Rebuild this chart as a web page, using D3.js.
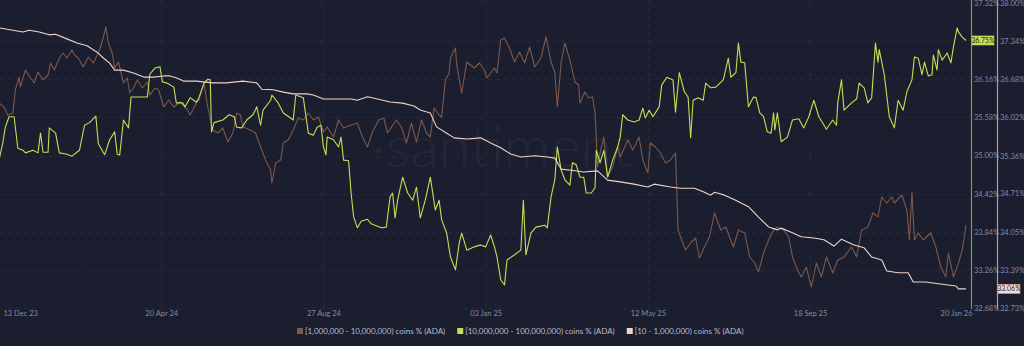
<!DOCTYPE html>
<html><head><meta charset="utf-8">
<script src="https://cdn.jsdelivr.net/npm/d3@7"></script>
<style>
html,body{margin:0;padding:0;background:#1b1e2f;}
svg{display:block;font-family:Lato,"Open Sans",sans-serif;}
</style></head>
<body><svg id="c" width="1024" height="346"></svg>
<script>
const startDate = "2023-12-13";
const endDate = "2026-01-20";
const xTickLabels = ["2023-12-13","2024-04-20","2024-08-27","2025-01-03","2025-05-12","2025-09-18","2026-01-20"];
const seriesNames = ["[1,000,000 - 10,000,000) coins % (ADA)","[10,000,000 - 100,000,000) coins % (ADA)","[10 - 1,000,000) coins % (ADA)"];
const greenTicks = [37.32,36.74,36.16,35.58,35.00,34.42,33.84,33.26,32.68];
const pinkTicks = [38.00,37.34,36.68,36.02,35.36,34.71,34.05,33.39,32.73];

// [1,000,000 - 10,000,000) (hidden axis)
const brownDays = [0,4,7,11,13,16,17,21,25,28,31,35,39,41,44,48,51,54,58,60,63,67,71,75,80,83,85,87,90,92,95,99,102,104,107,110,114,118,120,124,127,131,135,139,144,150,152,157,159,163,166,170,174,178,182,186,189,192,194,200,204,208,212,216,217,220,224,226,230,234,238,242,246,250,254,258,261,266,270,274,280,285,289,293,297,302,306,309,316,320,324,328,332,336,340,343,346,350,352,355,358,359,363,364,368,372,378,382,386,388,394,396,399,402,406,410,414,418,422,426,431,435,439,442,444,447,450,454,458,461,462,466,469,472,474,476,478,481,484,488,492,494,500,504,509,512,516,518,522,526,530,534,538,540,542,546,550,554,557,561,565,569,574,578,584,588,593,597,601,604,608,612,616,619,624,628,631,635,638,642,646,650,654,658,663,667,672,678,682,686,691,695,699,702,706,710,712,718,722,724,726,728,731,735,741,745,749,753,755,759,763,766,769];
const brownValues = [11.00,10.96,10.88,10.90,11.13,11.26,11.16,11.33,11.25,11.20,11.31,11.23,11.28,11.40,11.33,11.45,11.50,11.45,11.53,11.48,11.45,11.36,11.46,11.40,11.53,11.66,11.76,11.60,11.50,11.35,11.41,11.20,11.25,11.10,11.15,11.23,11.15,11.21,11.08,11.15,11.13,10.96,11.03,10.96,11.01,10.93,10.88,11.00,11.03,11.20,10.96,10.73,10.70,10.75,10.61,10.70,10.90,10.88,10.76,10.73,10.70,10.56,10.43,10.33,10.20,10.40,10.43,10.60,10.63,10.73,10.85,10.83,10.90,10.83,10.86,10.71,10.76,10.66,10.83,10.75,10.78,10.80,10.66,10.56,10.71,10.83,10.85,10.70,10.83,10.76,10.60,10.80,10.61,10.83,10.70,10.66,10.95,10.88,10.86,11.23,11.30,11.45,11.55,11.38,11.10,11.41,11.35,11.40,11.33,11.25,11.35,11.30,11.63,11.65,11.55,11.41,11.51,11.40,11.56,11.36,11.45,11.66,11.41,11.31,10.96,11.40,11.60,11.43,11.21,11.18,11.00,11.11,11.05,11.06,10.90,10.36,10.50,10.66,10.26,10.36,10.56,10.46,10.63,10.53,10.66,10.43,10.30,10.60,10.56,10.50,10.40,10.43,10.50,9.73,9.66,9.53,9.60,9.65,9.45,9.56,9.66,9.90,9.73,9.76,9.56,9.73,9.70,9.46,9.40,9.31,9.50,9.63,9.73,9.76,9.73,9.66,9.46,9.33,9.26,9.36,9.16,9.40,9.26,9.46,9.30,9.43,9.46,9.56,9.46,9.73,9.76,9.90,9.86,10.06,10.00,10.06,10.00,10.08,9.93,9.63,10.11,9.63,9.70,9.63,9.70,9.56,9.36,9.26,9.50,9.26,9.40,9.53,9.78];
const brownDomain = [8.95, 12.00];

// [10,000,000 - 100,000,000)
const greenDays = [0,3,5,8,12,15,19,21,27,31,33,35,39,40,45,48,54,58,64,68,72,77,79,84,88,92,94,96,99,103,105,112,118,120,124,128,130,134,139,141,146,148,152,157,159,163,166,168,169,171,178,183,187,189,193,197,202,205,208,210,216,217,222,226,234,236,242,246,250,253,256,258,260,261,266,270,272,274,278,280,282,285,288,293,296,304,308,311,313,315,317,321,325,329,332,335,339,343,347,350,352,356,359,363,366,368,372,378,383,387,391,394,396,399,402,404,410,415,417,419,423,427,434,436,439,442,444,447,450,454,456,459,462,465,467,471,474,475,478,481,484,488,492,494,496,500,505,509,512,514,517,520,525,527,531,536,538,541,545,548,550,552,556,560,562,566,570,576,580,582,586,588,590,593,596,600,602,605,608,611,614,616,617,619,622,627,631,636,640,644,648,652,658,663,666,667,670,672,678,682,684,688,691,694,697,699,700,704,708,712,715,719,722,726,728,731,734,736,739,742,743,746,747,750,754,757,759,762,763,766,769];
const greenValues = [34.93,35.19,35.43,35.59,35.59,35.11,35.08,35.04,35.08,35.04,35.34,35.05,35.05,35.42,35.34,35.04,35.02,34.99,35.08,35.46,35.50,35.60,35.18,35.01,35.24,35.36,35.02,35.01,35.54,35.42,35.89,35.89,35.89,36.24,36.33,36.35,36.12,36.10,36.04,35.80,35.80,35.74,35.88,35.81,35.88,36.10,36.16,36.15,35.36,35.50,35.54,35.62,35.59,35.43,35.42,35.54,35.62,35.74,35.46,35.69,35.84,35.92,35.80,35.65,35.54,35.92,35.88,35.34,35.31,35.43,35.46,35.13,35.01,35.28,35.24,35.13,35.28,34.93,34.92,34.43,34.07,33.90,34.00,34.03,33.96,33.90,33.91,34.37,34.43,34.05,34.32,34.67,34.43,34.32,34.52,34.05,34.32,34.67,34.17,34.32,34.02,33.82,33.46,33.26,33.67,33.82,33.56,33.61,33.64,33.61,33.79,33.61,33.46,33.11,33.03,33.41,33.49,33.56,34.32,33.49,33.82,33.91,33.94,33.90,34.37,34.63,35.13,34.78,34.63,34.55,34.89,34.86,34.67,34.67,34.43,34.43,34.51,35.08,34.89,35.08,34.67,34.93,35.13,35.28,35.62,35.54,35.51,35.54,35.72,35.57,35.69,35.59,35.74,36.07,36.19,36.15,35.66,36.26,35.97,35.89,35.27,35.84,35.88,35.84,36.10,36.03,36.04,36.15,36.48,36.19,36.26,36.71,36.42,36.41,35.74,35.89,35.88,35.65,35.59,35.36,35.34,35.65,35.39,35.65,35.21,35.28,35.54,35.56,35.42,35.59,35.84,35.59,35.40,35.54,35.46,35.80,36.15,35.69,35.80,35.86,36.10,36.03,35.80,35.88,36.71,36.42,36.61,36.23,35.59,35.42,35.84,35.69,35.97,36.15,36.50,36.48,36.23,36.42,36.21,36.23,36.53,36.30,36.61,36.45,36.56,36.41,36.65,36.94,36.88,36.80,36.75];

// [10 - 1,000,000)
const pinkDays = [0,11,19,24,32,40,45,54,62,70,78,83,88,92,99,107,115,123,131,136,142,147,157,170,181,194,205,209,218,226,234,245,250,258,269,280,285,293,301,311,321,330,335,343,348,356,362,372,383,391,399,407,415,426,436,442,447,455,465,476,484,494,505,516,521,534,542,553,561,566,569,577,585,596,604,612,619,622,630,638,648,656,664,670,680,688,694,702,706,715,723,727,737,747,761,763,769];
const pinkValues = [37.57,37.53,37.50,37.53,37.50,37.45,37.46,37.38,37.31,37.26,37.15,37.05,36.96,36.84,36.84,36.79,36.72,36.72,36.74,36.74,36.70,36.65,36.65,36.62,36.62,36.65,36.62,36.51,36.50,36.46,36.43,36.43,36.41,36.34,36.34,36.34,36.32,36.38,36.34,36.29,36.27,36.22,36.15,36.10,35.86,35.75,35.67,35.65,35.67,35.58,35.50,35.39,35.34,35.36,35.34,35.32,35.13,35.11,35.08,35.10,34.94,34.91,34.87,34.82,34.87,34.82,34.80,34.80,34.73,34.68,34.73,34.68,34.60,34.48,34.30,34.13,34.08,34.11,34.04,33.96,33.94,33.91,33.80,33.92,33.82,33.77,33.61,33.56,33.37,33.34,33.34,33.18,33.18,33.15,33.11,33.06,33.06];

const colors = {bg:"#1b1e2f", brown:"#7e584a", green:"#c6df52", pink:"#f2d2c4", axisText:"#858aa3", grid:"#262a3d", legendText:"#b9bccb"};

const svg = d3.select("#c");
svg.append("rect").attr("width",1024).attr("height",346).attr("fill",colors.bg);

const DAY = 86400000;
const t0 = new Date(startDate+"T00:00:00Z");
const toDate = d => new Date(t0.getTime() + d*DAY);
const parse = s => new Date(s+"T00:00:00Z");

const plotTop = 3, plotBottom = 308;
const x = d3.scaleUtc().domain([parse(startDate), parse(endDate)]).range([-1, 966]);
const yGreen = d3.scaleLinear().domain([32.68, 37.32]).range([plotBottom, plotTop]);
const yPink = d3.scaleLinear().domain([32.73, 38.00]).range([plotBottom, plotTop]);
const yBrown = d3.scaleLinear().domain(brownDomain).range([plotBottom, plotTop]);

// grid
const g = svg.append("g");
g.selectAll(".hg").data(greenTicks).join("line")
  .attr("x1",0).attr("x2",966).attr("y1",d=>Math.round(yGreen(d))+0.5).attr("y2",d=>Math.round(yGreen(d))+0.5)
  .attr("stroke",colors.grid).attr("stroke-dasharray","4,4");
const xt = xTickLabels.map(parse);
g.selectAll(".vg").data(xt.slice(1,-1)).join("line")
  .attr("x1",d=>Math.round(x(d))+0.5).attr("x2",d=>Math.round(x(d))+0.5).attr("y1",0).attr("y2",plotBottom)
  .attr("stroke",colors.grid).attr("stroke-dasharray","4,4");

// watermark
svg.append("text").attr("x",502).attr("y",167).attr("text-anchor","middle")
  .attr("font-size",58).attr("font-weight",300).attr("fill","#ffffff").attr("fill-opacity",0.045)
  .text("·santiment");

// lines
const mk = (days, vals) => days.map((d,i)=>({date:toDate(d), v:vals[i]}));
const line = ys => d3.line().x(d=>x(d.date)).y(d=>ys(d.v));
svg.append("path").datum(mk(brownDays,brownValues)).attr("d",line(yBrown))
  .attr("fill","none").attr("stroke",colors.brown).attr("stroke-width",1.1).attr("stroke-linejoin","round");
svg.append("path").datum(mk(greenDays,greenValues)).attr("d",line(yGreen))
  .attr("fill","none").attr("stroke",colors.green).attr("stroke-width",1.1).attr("stroke-linejoin","round");
svg.append("path").datum(mk(pinkDays,pinkValues)).attr("d",line(yPink))
  .attr("fill","none").attr("stroke",colors.pink).attr("stroke-width",1.1).attr("stroke-linejoin","round");

// x axis
const xa = svg.append("g").attr("transform",`translate(0,${plotBottom})`)
  .call(d3.axisBottom(x).tickValues(xt).tickFormat(d3.utcFormat("%d %b %y")).tickSize(0).tickPadding(3));
xa.select(".domain").remove();
xa.selectAll("text").attr("fill",colors.axisText).attr("font-size",7.5).attr("font-family","Lato,sans-serif");
const nT = xt.length;
xa.selectAll(".tick").filter((d,i)=>i===0).select("text").attr("text-anchor","start").attr("dx",4);
xa.selectAll(".tick").filter((d,i)=>i===nT-1).select("text").attr("text-anchor","end").attr("dx",6);

// right axes
const greenLast = greenValues[greenValues.length-1];
const pinkLast = pinkValues[pinkValues.length-1];
function rightAxis(scale, ticks, xPos, lineColor, lastVal){
  const a = svg.append("g").attr("transform",`translate(${xPos},0)`)
    .call(d3.axisRight(scale).tickValues(ticks).tickFormat(d=>d.toFixed(2)+"%").tickSize(0).tickPadding(3));
  a.select(".domain").attr("stroke",lineColor).attr("stroke-width",1.2).attr("d",`M0.5,0V${plotBottom+1}`);
  a.selectAll("text").attr("fill",colors.axisText).attr("font-size",7.5).attr("font-family","Lato,sans-serif");
  // labels hidden behind the last-value badge
  a.selectAll(".tick").filter(d=>Math.abs(scale(d)-scale(lastVal))<8).remove();
  return a;
}
rightAxis(yGreen, greenTicks, 971, "#8a9a34", greenLast);
rightAxis(yPink, pinkTicks, 997, "#b39e9a", pinkLast);

// last-value badges
function badge(xPos, yPos, txt, fill, stroke){
  const gb = svg.append("g").attr("transform",`translate(${xPos},${yPos})`);
  gb.append("rect").attr("x",0).attr("y",-4.5).attr("width",22).attr("height",9).attr("fill",fill).attr("stroke",stroke).attr("stroke-width",0.6);
  gb.append("text").attr("x",11).attr("y",0).attr("dy","0.33em").attr("text-anchor","middle")
    .attr("font-size",7).attr("fill","#1b1e2f").text(txt);
}
badge(972, yGreen(greenLast), greenLast.toFixed(2)+"%", colors.green, colors.green);
badge(998, yPink(pinkLast), pinkLast.toFixed(2)+"%", "#f6dccf", "#e2a98f");

// legend
const legendColors = [colors.brown, colors.green, colors.pink];
const lg = svg.append("g").attr("transform","translate(0,331)");
let lx = 297;
seriesNames.forEach((n,i)=>{
  lg.append("rect").attr("x",lx).attr("y",-3).attr("width",6).attr("height",6).attr("fill",legendColors[i]);
  const t = lg.append("text").attr("x",lx+8).attr("y",0).attr("dy","0.35em").attr("font-size",8)
    .attr("fill",colors.legendText).text(n);
  lx += 8 + t.node().getComputedTextLength() + 12;
});
</script>
</body></html>
